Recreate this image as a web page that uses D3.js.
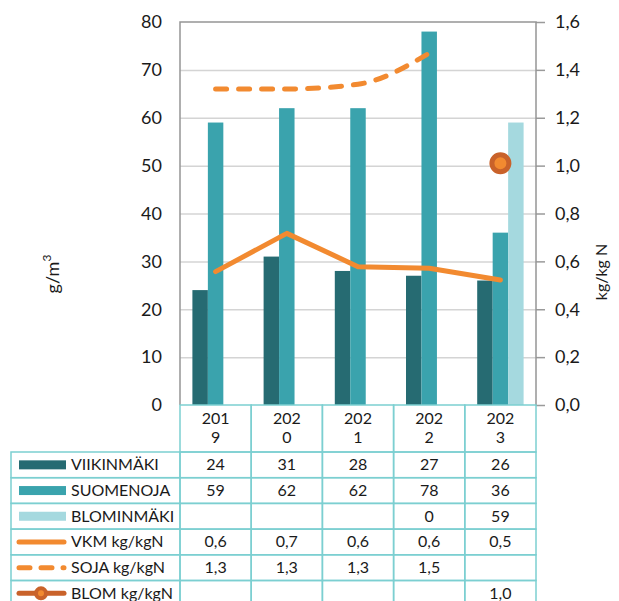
<!DOCTYPE html>
<html>
<head>
<meta charset="utf-8">
<title>Chart</title>
<script src="https://d3js.org/d3.v7.min.js"></script>
<style type="text/css">
	body{
		margin:0;
		background:white;
	}
	text{
		font-family: Lato, "Noto Sans", sans-serif;
		fill:#1a1a1a;
	}
	.grid line{
		stroke:#d4d4d4;
		stroke-width:1.5;
	}
	.frame{
		stroke:#959595;
		stroke-width:1.5;
		fill:none;
	}
	.cell{
		stroke:#7ccfd1;
		stroke-width:1.5;
		fill:none;
	}
</style>
</head>
<body>
<svg id="chart" width="619" height="601"></svg>
<script>
	// data
	var years = ["2019","2020","2021","2022","2023"];
	var viikinmaki = [24, 31, 28, 27, 26];
	var suomenoja = [59, 62, 62, 78, 36];
	var blominmaki = [null, null, null, 0, 59];
	var vkmKg = [0.557, 0.717, 0.578, 0.571, 0.522];
	var sojaKg = [1.32, 1.32, 1.34, 1.47, null];
	var blomKg = [null, null, null, null, 1.01];
	var leftTicks = [0,10,20,30,40,50,60,70,80];
	var rightTicks = [0,0.2,0.4,0.6,0.8,1.0,1.2,1.4,1.6];

	var barSeries = [
		{name:"VIIKINMÄKI", values:viikinmaki, color:"#266b72"},
		{name:"SUOMENOJA", values:suomenoja, color:"#3aa3ad"},
		{name:"BLOMINMÄKI", values:blominmaki, color:"#a5d9df"}
	];
	var lineSeries = [
		{name:"VKM kg/kgN", values:vkmKg, color:"#f28a30", dash:null},
		{name:"SOJA kg/kgN", values:sojaKg, color:"#f28a30", dash:"11,12"},
		{name:"BLOM kg/kgN", values:blomKg, color:"#c9622a", marker:true}
	];

	var svg = d3.select("#chart");
	var plot = {left:180, right:536, top:22, bottom:405};
	var tableLeft = 11;
	var headerH = 47;
	var rowH = 25.7;

	var x = d3.scaleBand().domain(years).range([plot.left, plot.right]);
	var xInner = d3.scaleBand().domain(barSeries.map(d => d.name))
		.range([12.4, x.bandwidth() - 12.4]);
	var y = d3.scaleLinear().domain([0,80]).range([plot.bottom, plot.top]);
	var y2 = d3.scaleLinear().domain([0,1.6]).range([plot.bottom, plot.top]);
	var comma = d => d3.format(".1f")(d).replace(".", ",");

	// gridlines
	svg.append("g")
		.attr("class","grid")
		.attr("transform","translate("+plot.left+",0)")
		.call(d3.axisLeft(y).tickValues(leftTicks.slice(1,-1)).tickSize(-(plot.right-plot.left)).tickFormat(""))
		.call(g => g.select(".domain").remove());

	// left axis labels
	var leftAxis = svg.append("g")
		.attr("transform","translate("+plot.left+",0)")
		.call(d3.axisLeft(y).tickValues(leftTicks).tickSize(0).tickPadding(18));
	leftAxis.select(".domain").remove();
	leftAxis.selectAll("text").style("font-size","18px").style("font-family","Lato, sans-serif").attr("fill","#1a1a1a");

	// right axis
	var rightAxis = svg.append("g")
		.attr("transform","translate("+plot.right+",0)")
		.call(d3.axisRight(y2).tickValues(rightTicks).tickSize(9).tickPadding(10).tickFormat(comma));
	rightAxis.select(".domain").remove();
	rightAxis.selectAll("line").attr("stroke","#9a9a9a").attr("stroke-width",1.5);
	rightAxis.selectAll("text").style("font-size","18px").style("font-family","Lato, sans-serif").attr("fill","#1a1a1a");

	// bars
	barSeries.forEach(function(s){
		svg.append("g").selectAll("rect")
			.data(years.map((yr,i) => ({year:yr, v:s.values[i]})).filter(d => d.v !== null))
			.enter()
			.append("rect")
			.attr("x", d => x(d.year) + xInner(s.name))
			.attr("width", xInner.bandwidth())
			.attr("y", d => y(d.v))
			.attr("height", d => y(0) - y(d.v))
			.attr("fill", s.color);
	});

	// frame
	svg.append("path")
		.attr("class","frame")
		.attr("d","M"+plot.left+","+plot.bottom+"V"+plot.top+"H"+plot.right+"V"+plot.bottom);

	// lines
	var cx = d => x(d.year) + x.bandwidth()/2;
	lineSeries.forEach(function(s){
		var pts = years.map((yr,i) => ({year:yr, v:s.values[i]})).filter(d => d.v !== null);
		if(s.marker){
			svg.append("g").selectAll("circle")
				.data(pts)
				.enter()
				.append("circle")
				.attr("cx", cx)
				.attr("cy", d => y2(d.v))
				.attr("r", 8.5)
				.attr("fill","#f28a30")
				.attr("stroke", s.color)
				.attr("stroke-width", 5);
			return;
		}
		var line = d3.line().x(cx).y(d => y2(d.v)).curve(s.dash ? d3.curveMonotoneX : d3.curveLinear);
		svg.append("path")
			.datum(pts)
			.attr("fill","none")
			.attr("stroke", s.color)
			.attr("stroke-width", 5)
			.attr("stroke-linecap","round")
			.attr("stroke-linejoin","round")
			.attr("stroke-dasharray", s.dash)
			.attr("d", line);
	});

	// axis titles
	svg.append("text")
		.attr("transform","translate(59,274) rotate(-90)")
		.attr("text-anchor","middle")
		.style("font-size","18px")
		.text("g/m")
		.append("tspan")
		.attr("dy","-8")
		.style("font-size","12px")
		.text("3");
	svg.append("text")
		.attr("transform","translate(607,272) rotate(-90)")
		.attr("text-anchor","middle")
		.style("font-size","16px")
		.text("kg/kg N");

	// data table
	var table = svg.append("g");
	years.forEach(function(yr){
		table.append("rect")
			.attr("class","cell")
			.attr("x", x(yr)).attr("y", plot.bottom)
			.attr("width", x.bandwidth()).attr("height", headerH);
		var t = table.append("text")
			.attr("text-anchor","middle")
			.style("font-size","16px");
		t.append("tspan").attr("x", x(yr) + x.bandwidth()/2).attr("y", plot.bottom + 19).text(yr.slice(0,3));
		t.append("tspan").attr("x", x(yr) + x.bandwidth()/2).attr("y", plot.bottom + 38).text(yr.slice(3));
	});

	var rows = barSeries.map(s => ({s:s, type:"bar", labels:s.values.map(v => v === null ? "" : String(v))}))
		.concat(lineSeries.map(s => ({s:s, type:"line", labels:s.values.map(v => v === null ? "" : comma(v))})));

	rows.forEach(function(r, i){
		var top = plot.bottom + headerH + i*rowH;
		var mid = top + rowH/2;
		table.append("rect")
			.attr("class","cell")
			.attr("x", tableLeft).attr("y", top)
			.attr("width", plot.left - tableLeft).attr("height", rowH);
		years.forEach(function(yr, j){
			table.append("rect")
				.attr("class","cell")
				.attr("x", x(yr)).attr("y", top)
				.attr("width", x.bandwidth()).attr("height", rowH);
			table.append("text")
				.attr("x", x(yr) + x.bandwidth()/2)
				.attr("y", mid + 5.5)
				.attr("text-anchor","middle")
				.style("font-size","16px")
				.text(r.labels[j]);
		});
		// legend key
		if(r.type === "bar"){
			table.append("rect")
				.attr("x", 19).attr("y", mid - 4.5)
				.attr("width", 47).attr("height", 9)
				.attr("fill", r.s.color);
		} else {
			table.append("line")
				.attr("x1", 19).attr("x2", 64)
				.attr("y1", mid).attr("y2", mid)
				.attr("stroke", r.s.color)
				.attr("stroke-width", 5)
				.attr("stroke-linecap","round")
				.attr("stroke-dasharray", r.s.dash ? "11,11" : null);
			if(r.s.marker){
				table.append("circle")
					.attr("cx", 41).attr("cy", mid).attr("r", 5)
					.attr("fill","#f28a30")
					.attr("stroke", r.s.color)
					.attr("stroke-width", 4);
			}
		}
		table.append("text")
			.attr("x", 71)
			.attr("y", mid + 5.5)
			.style("font-size","16px")
			.text(r.s.name);
	});
</script>
</body>
</html>
